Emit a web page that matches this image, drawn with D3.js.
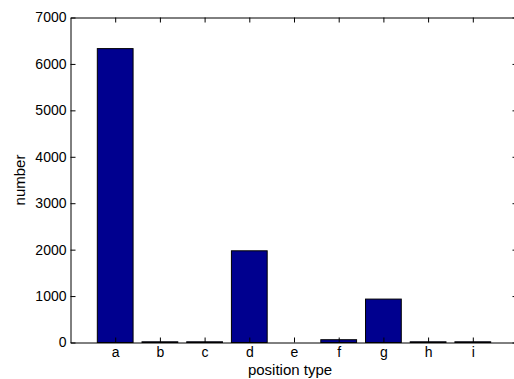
<html>
<head>
<script src="https://d3js.org/d3.v7.min.js" charset="utf-8"></script>
<style>
  body { margin: 0; background: #fff; }
  text { font-family: "Liberation Sans", Arial, sans-serif; }
</style>
</head>
<body>
<svg id="chart"></svg>
<script>
    // values
    var categories = ["a", "b", "c", "d", "e", "f", "g", "h", "i"];
    var counts = [6330, 15, 15, 1975, 0, 60, 935, 15, 15];
    var yTicks = [0, 1000, 2000, 3000, 4000, 5000, 6000, 7000];

    var w = 514, h = 379;
    var axLeft = 70.5, axRight = 517.5, axTop = 17.5, axBottom = 342.5;

    var svg = d3.select("#chart")
        .attr("width", w)
        .attr("height", h);

    // matlab style: bar i sits at x = i+1, xlim [0, 10]
    var x = d3.scaleLinear().domain([0, categories.length + 1]).range([axLeft, axRight]);
    var y = d3.scaleLinear().domain([0, 7000]).range([axBottom, axTop]);

    var barW = 0.8;

    svg.selectAll("rect.bar")
        .data(counts)
        .enter()
        .append("rect")
        .attr("class", "bar")
        .attr("x", function(d, i) { return x(i + 1 - barW / 2); })
        .attr("width", function() { return x(barW) - x(0); })
        .attr("y", function(d) { return y(d); })
        .attr("height", function(d) { return y(0) - y(d); })
        .style("fill", "#00008f")
        .style("stroke", "#000")
        .style("stroke-width", 1);

    var catPos = categories.map(function(c, i) { return i + 1; });

    var bottomAxis = d3.axisBottom(x)
        .tickValues(catPos)
        .tickFormat(function(d) { return categories[d - 1]; })
        .tickSizeInner(-5).tickSizeOuter(0).tickPadding(5);
    var topAxis = d3.axisTop(x)
        .tickValues(catPos).tickFormat("")
        .tickSizeInner(-5).tickSizeOuter(0);
    var leftAxis = d3.axisLeft(y)
        .tickValues(yTicks).tickFormat(d3.format("d"))
        .tickSizeInner(-5).tickSizeOuter(0).tickPadding(4);
    var rightAxis = d3.axisRight(y)
        .tickValues(yTicks).tickFormat("")
        .tickSizeInner(-5).tickSizeOuter(0);

    function style(g) {
        g.selectAll("path, line").style("stroke", "#000").style("stroke-width", 1);
        g.selectAll("text").style("font-size", "14px").style("fill", "#000");
    }

    svg.append("g").attr("transform", "translate(0," + axBottom + ")").call(bottomAxis).call(style);
    svg.append("g").attr("transform", "translate(0," + axTop + ")").call(topAxis).call(style);
    svg.append("g").attr("transform", "translate(" + axLeft + ",0)").call(leftAxis).call(style);
    svg.append("g").attr("transform", "translate(" + axRight + ",0)").call(rightAxis).call(style);

    svg.append("text")
        .attr("x", 290)
        .attr("y", 375)
        .attr("text-anchor", "middle")
        .style("font-size", "15px")
        .text("position type");

    svg.append("text")
        .attr("transform", "translate(25," + (axTop + axBottom) / 2 + ") rotate(-90)")
        .attr("text-anchor", "middle")
        .style("font-size", "15px")
        .text("number");
</script>
</body>
</html>
